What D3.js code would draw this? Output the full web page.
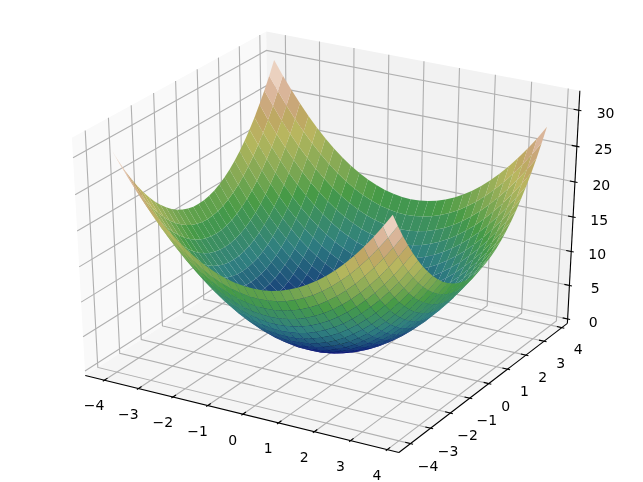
<!DOCTYPE html>
<html>
<head>
<meta charset="utf-8">
<script src="https://cdn.jsdelivr.net/npm/d3@7"></script>
<style>
	html, body { margin: 0; padding: 0; background: #fff; }
	svg { display: block; filter: blur(0.4px); }
	text { font-family: "DejaVu Sans", sans-serif; font-size: 14px; fill: #000; }
</style>
</head>
<body>
<svg id="chart" width="643" height="482"></svg>
<script>
/*********************************************************\
* Bowl surface, values               *
\*********************************************************/

var gridValues = [-4,-3.75,-3.5,-3.25,-3,-2.75,-2.5,-2.25,-2,-1.75,-1.5,-1.25,-1,-0.75,-0.5,-0.25,0,
	0.25,0.5,0.75,1,1.25,1.5,1.75,2,2.25,2.5,2.75,3,3.25,3.5,3.75];

var zRows = [
	[32,30.06,28.25,26.56,25,23.56,22.25,21.06,20,19.06,18.25,17.56,17,16.56,16.25,16.06,16,16.06,16.25,16.56,17,17.56,18.25,19.06,20,21.06,22.25,23.56,25,26.56,28.25,30.06],
	[30.06,28.12,26.31,24.62,23.06,21.62,20.31,19.12,18.06,17.12,16.31,15.62,15.06,14.62,14.31,14.12,14.06,14.12,14.31,14.62,15.06,15.62,16.31,17.12,18.06,19.12,20.31,21.62,23.06,24.62,26.31,28.12],
	[28.25,26.31,24.5,22.81,21.25,19.81,18.5,17.31,16.25,15.31,14.5,13.81,13.25,12.81,12.5,12.31,12.25,12.31,12.5,12.81,13.25,13.81,14.5,15.31,16.25,17.31,18.5,19.81,21.25,22.81,24.5,26.31],
	[26.56,24.62,22.81,21.12,19.56,18.12,16.81,15.62,14.56,13.62,12.81,12.12,11.56,11.12,10.81,10.62,10.56,10.62,10.81,11.12,11.56,12.12,12.81,13.62,14.56,15.62,16.81,18.12,19.56,21.12,22.81,24.62],
	[25,23.06,21.25,19.56,18,16.56,15.25,14.06,13,12.06,11.25,10.56,10,9.56,9.25,9.06,9,9.06,9.25,9.56,10,10.56,11.25,12.06,13,14.06,15.25,16.56,18,19.56,21.25,23.06],
	[23.56,21.62,19.81,18.12,16.56,15.12,13.81,12.62,11.56,10.62,9.81,9.12,8.56,8.12,7.81,7.62,7.56,7.62,7.81,8.12,8.56,9.12,9.81,10.62,11.56,12.62,13.81,15.12,16.56,18.12,19.81,21.62],
	[22.25,20.31,18.5,16.81,15.25,13.81,12.5,11.31,10.25,9.31,8.5,7.81,7.25,6.81,6.5,6.31,6.25,6.31,6.5,6.81,7.25,7.81,8.5,9.31,10.25,11.31,12.5,13.81,15.25,16.81,18.5,20.31],
	[21.06,19.12,17.31,15.62,14.06,12.62,11.31,10.12,9.06,8.12,7.31,6.62,6.06,5.62,5.31,5.12,5.06,5.12,5.31,5.62,6.06,6.62,7.31,8.12,9.06,10.12,11.31,12.62,14.06,15.62,17.31,19.12],
	[20,18.06,16.25,14.56,13,11.56,10.25,9.06,8,7.06,6.25,5.56,5,4.56,4.25,4.06,4,4.06,4.25,4.56,5,5.56,6.25,7.06,8,9.06,10.25,11.56,13,14.56,16.25,18.06],
	[19.06,17.12,15.31,13.62,12.06,10.62,9.31,8.12,7.06,6.12,5.31,4.62,4.06,3.62,3.31,3.12,3.06,3.12,3.31,3.62,4.06,4.62,5.31,6.12,7.06,8.12,9.31,10.62,12.06,13.62,15.31,17.12],
	[18.25,16.31,14.5,12.81,11.25,9.81,8.5,7.31,6.25,5.31,4.5,3.81,3.25,2.81,2.5,2.31,2.25,2.31,2.5,2.81,3.25,3.81,4.5,5.31,6.25,7.31,8.5,9.81,11.25,12.81,14.5,16.31],
	[17.56,15.62,13.81,12.12,10.56,9.12,7.81,6.62,5.56,4.62,3.81,3.12,2.56,2.12,1.81,1.62,1.56,1.62,1.81,2.12,2.56,3.12,3.81,4.62,5.56,6.62,7.81,9.12,10.56,12.12,13.81,15.62],
	[17,15.06,13.25,11.56,10,8.56,7.25,6.06,5,4.06,3.25,2.56,2,1.56,1.25,1.06,1,1.06,1.25,1.56,2,2.56,3.25,4.06,5,6.06,7.25,8.56,10,11.56,13.25,15.06],
	[16.56,14.62,12.81,11.12,9.56,8.12,6.81,5.62,4.56,3.62,2.81,2.12,1.56,1.12,0.81,0.62,0.56,0.62,0.81,1.12,1.56,2.12,2.81,3.62,4.56,5.62,6.81,8.12,9.56,11.12,12.81,14.62],
	[16.25,14.31,12.5,10.81,9.25,7.81,6.5,5.31,4.25,3.31,2.5,1.81,1.25,0.81,0.5,0.31,0.25,0.31,0.5,0.81,1.25,1.81,2.5,3.31,4.25,5.31,6.5,7.81,9.25,10.81,12.5,14.31],
	[16.06,14.12,12.31,10.62,9.06,7.62,6.31,5.12,4.06,3.12,2.31,1.62,1.06,0.62,0.31,0.12,0.06,0.12,0.31,0.62,1.06,1.62,2.31,3.12,4.06,5.12,6.31,7.62,9.06,10.62,12.31,14.12],
	[16,14.06,12.25,10.56,9,7.56,6.25,5.06,4,3.06,2.25,1.56,1,0.56,0.25,0.06,0,0.06,0.25,0.56,1,1.56,2.25,3.06,4,5.06,6.25,7.56,9,10.56,12.25,14.06],
	[16.06,14.12,12.31,10.62,9.06,7.62,6.31,5.12,4.06,3.12,2.31,1.62,1.06,0.62,0.31,0.12,0.06,0.12,0.31,0.62,1.06,1.62,2.31,3.12,4.06,5.12,6.31,7.62,9.06,10.62,12.31,14.12],
	[16.25,14.31,12.5,10.81,9.25,7.81,6.5,5.31,4.25,3.31,2.5,1.81,1.25,0.81,0.5,0.31,0.25,0.31,0.5,0.81,1.25,1.81,2.5,3.31,4.25,5.31,6.5,7.81,9.25,10.81,12.5,14.31],
	[16.56,14.62,12.81,11.12,9.56,8.12,6.81,5.62,4.56,3.62,2.81,2.12,1.56,1.12,0.81,0.62,0.56,0.62,0.81,1.12,1.56,2.12,2.81,3.62,4.56,5.62,6.81,8.12,9.56,11.12,12.81,14.62],
	[17,15.06,13.25,11.56,10,8.56,7.25,6.06,5,4.06,3.25,2.56,2,1.56,1.25,1.06,1,1.06,1.25,1.56,2,2.56,3.25,4.06,5,6.06,7.25,8.56,10,11.56,13.25,15.06],
	[17.56,15.62,13.81,12.12,10.56,9.12,7.81,6.62,5.56,4.62,3.81,3.12,2.56,2.12,1.81,1.62,1.56,1.62,1.81,2.12,2.56,3.12,3.81,4.62,5.56,6.62,7.81,9.12,10.56,12.12,13.81,15.62],
	[18.25,16.31,14.5,12.81,11.25,9.81,8.5,7.31,6.25,5.31,4.5,3.81,3.25,2.81,2.5,2.31,2.25,2.31,2.5,2.81,3.25,3.81,4.5,5.31,6.25,7.31,8.5,9.81,11.25,12.81,14.5,16.31],
	[19.06,17.12,15.31,13.62,12.06,10.62,9.31,8.12,7.06,6.12,5.31,4.62,4.06,3.62,3.31,3.12,3.06,3.12,3.31,3.62,4.06,4.62,5.31,6.12,7.06,8.12,9.31,10.62,12.06,13.62,15.31,17.12],
	[20,18.06,16.25,14.56,13,11.56,10.25,9.06,8,7.06,6.25,5.56,5,4.56,4.25,4.06,4,4.06,4.25,4.56,5,5.56,6.25,7.06,8,9.06,10.25,11.56,13,14.56,16.25,18.06],
	[21.06,19.12,17.31,15.62,14.06,12.62,11.31,10.12,9.06,8.12,7.31,6.62,6.06,5.62,5.31,5.12,5.06,5.12,5.31,5.62,6.06,6.62,7.31,8.12,9.06,10.12,11.31,12.62,14.06,15.62,17.31,19.12],
	[22.25,20.31,18.5,16.81,15.25,13.81,12.5,11.31,10.25,9.31,8.5,7.81,7.25,6.81,6.5,6.31,6.25,6.31,6.5,6.81,7.25,7.81,8.5,9.31,10.25,11.31,12.5,13.81,15.25,16.81,18.5,20.31],
	[23.56,21.62,19.81,18.12,16.56,15.12,13.81,12.62,11.56,10.62,9.81,9.12,8.56,8.12,7.81,7.62,7.56,7.62,7.81,8.12,8.56,9.12,9.81,10.62,11.56,12.62,13.81,15.12,16.56,18.12,19.81,21.62],
	[25,23.06,21.25,19.56,18,16.56,15.25,14.06,13,12.06,11.25,10.56,10,9.56,9.25,9.06,9,9.06,9.25,9.56,10,10.56,11.25,12.06,13,14.06,15.25,16.56,18,19.56,21.25,23.06],
	[26.56,24.62,22.81,21.12,19.56,18.12,16.81,15.62,14.56,13.62,12.81,12.12,11.56,11.12,10.81,10.62,10.56,10.62,10.81,11.12,11.56,12.12,12.81,13.62,14.56,15.62,16.81,18.12,19.56,21.12,22.81,24.62],
	[28.25,26.31,24.5,22.81,21.25,19.81,18.5,17.31,16.25,15.31,14.5,13.81,13.25,12.81,12.5,12.31,12.25,12.31,12.5,12.81,13.25,13.81,14.5,15.31,16.25,17.31,18.5,19.81,21.25,22.81,24.5,26.31],
	[30.06,28.12,26.31,24.62,23.06,21.62,20.31,19.12,18.06,17.12,16.31,15.62,15.06,14.62,14.31,14.12,14.06,14.12,14.31,14.62,15.06,15.62,16.31,17.12,18.06,19.12,20.31,21.62,23.06,24.62,26.31,28.12]
];

var xTicks = [-4,-3,-2,-1,0,1,2,3,4];
var yTicks = [-4,-3,-2,-1,0,1,2,3,4];
var zTicks = [0,5,10,15,20,25,30];
var xTickLabels = ['\u22124','\u22123','\u22122','\u22121','0','1','2','3','4'];
var yTickLabels = ['\u22124','\u22123','\u22122','\u22121','0','1','2','3','4'];
var zTickLabels = ['0','5','10','15','20','25','30'];

// colour ramp of the surface, stops as position / channel value
var redStops = [[0,0],[0.2824,0.1882],[0.4588,0.2714],[0.549,0.4719],[0.698,0.7176],[0.7882,0.7553],[1,0.9922]];
var greenStops = [[0,0],[0.0275,0],[0.1098,0.1893],[0.1647,0.3035],[0.2078,0.3841],[0.2824,0.502],[0.5216,0.6397],
	[0.698,0.7171],[0.7882,0.6392],[0.8157,0.6549],[0.8667,0.6991],[0.898,0.743],[0.9412,0.8275],[0.9647,0.8816],[1,0.9843]];
var blueStops = [[0,0],[0.0039,0.1684],[0.0078,0.2212],[0.0275,0.4329],[0.0314,0.4549],[0.2824,0.5004],[0.4667,0.2748],
	[0.5451,0.3205],[0.7843,0.3961],[0.8078,0.4513],[0.8667,0.5799],[0.898,0.6556],[0.9412,0.7557],[0.9647,0.8094],[1,0.902]];

//- - - - - - - - - - - - - - - - - - - - - - - - - - - - - - - - - - - - - - - 

var xLimits = [-4.3875, 4.1375],
	yLimits = [-4.3875, 4.1375],
	zLimits = [0, 32],
	elevation = 30 * Math.PI / 180,
	azimuth = -60 * Math.PI / 180,
	dist = 10,
	lineWidth = 1.11,
	labelDrop = 5.5;

var worldX = d3.scaleLinear().domain(xLimits).range([0, 1]),
	worldY = d3.scaleLinear().domain(yLimits).range([0, 1]),
	worldZ = d3.scaleLinear().domain(zLimits).range([0, 1]);

var screenX = d3.scaleLinear().domain([-0.095, 0.09]).range([0, 643]),
	screenY = d3.scaleLinear().domain([-0.095, 0.09]).range([482, 0]);

// panes stick out of the limits by 1/48 of the range
var padX = (xLimits[1] - xLimits[0]) / 48,
	padY = (yLimits[1] - yLimits[0]) / 48,
	padZ = (zLimits[1] - zLimits[0]) / 48,
	x0 = xLimits[0] - padX, x1 = xLimits[1] + padX,
	y0 = yLimits[0] - padY, y1 = yLimits[1] + padY,
	z0 = zLimits[0] - padZ, z1 = zLimits[1] + padZ;

function normalize(v)
{
	var n = Math.sqrt(v[0] * v[0] + v[1] * v[1] + v[2] * v[2]);
	return [v[0] / n, v[1] / n, v[2] / n];
}

function cross(a, b)
{
	return [a[1] * b[2] - a[2] * b[1], a[2] * b[0] - a[0] * b[2], a[0] * b[1] - a[1] * b[0]];
}

function dot(a, b)
{
	return a[0] * b[0] + a[1] * b[1] + a[2] * b[2];
}

var viewN = [Math.cos(azimuth) * Math.cos(elevation), Math.sin(azimuth) * Math.cos(elevation), Math.sin(elevation)],
	viewU = normalize(cross([0, 0, 1], viewN)),
	viewV = cross(viewN, viewU),
	eye = [0.5 + dist * viewN[0], 0.5 + dist * viewN[1], 0.5 + dist * viewN[2]];

// returns [pixel x, pixel y, depth], depth grows away from the eye
function project(x, y, z)
{
	var p = [worldX(x) - eye[0], worldY(y) - eye[1], worldZ(z) - eye[2]],
		w = -dot(p, viewN);
	return [screenX(dot(p, viewU) / w), screenY(dot(p, viewV) / w), w];
}

function pathOf(points)
{
	return d3.line()(points.map(function (p) { return project(p[0], p[1], p[2]); }));
}

function rampScale(stops)
{
	return d3.scaleLinear()
		.domain(stops.map(function (s) { return s[0]; }))
		.range(stops.map(function (s) { return s[1]; }));
}

var rampR = rampScale(redStops),
	rampG = rampScale(greenStops),
	rampB = rampScale(blueStops);

function rampColour(t)
{
	return d3.rgb(rampR(t) * 255, rampG(t) * 255, rampB(t) * 255).formatRgb();
}

//- - - - - - - - - - - - - - - - - - - - - - - - - - - - - - - - - - - - - - - 

var svg = d3.select('#chart');

var panes = [
	{ fill: '#f9f9f9', pts: [[x0, y0, z0], [x0, y1, z0], [x0, y1, z1], [x0, y0, z1]] },
	{ fill: '#f2f2f2', pts: [[x0, y1, z0], [x1, y1, z0], [x1, y1, z1], [x0, y1, z1]] },
	{ fill: '#f5f5f5', pts: [[x0, y0, z0], [x1, y0, z0], [x1, y1, z0], [x0, y1, z0]] }
];

svg.append('g').attr('class', 'panes')
	.selectAll('path')
	.data(panes)
	.enter()
	.append('path')
	.attr('d', function (d) { return pathOf(d.pts) + 'Z'; })
	.attr('fill', function (d) { return d.fill; })
;

// grid lines run over the floor and up the back panes
var gridLines = []
	.concat(xTicks.map(function (t) { return [[t, y0, z0], [t, y1, z0], [t, y1, z1]]; }))
	.concat(yTicks.map(function (t) { return [[x1, t, z0], [x0, t, z0], [x0, t, z1]]; }))
	.concat(zTicks.map(function (t) { return [[x0, y0, t], [x0, y1, t], [x1, y1, t]]; }));

svg.append('g').attr('class', 'grid')
	.selectAll('path')
	.data(gridLines)
	.enter()
	.append('path')
	.attr('d', pathOf)
	.attr('fill', 'none')
	.attr('stroke', '#b0b0b0')
	.attr('stroke-width', lineWidth)
;

var axisLines = [
	[[x0, y0, z0], [x1, y0, z0]],
	[[x1, y0, z0], [x1, y1, z0]],
	[[x1, y1, z0], [x1, y1, z1]]
];

var tickDX = (xLimits[1] - xLimits[0]) / 12,
	tickDY = (yLimits[1] - yLimits[0]) / 12;

var tickLines = []
	.concat(xTicks.map(function (t) { return [[t, y0 - 0.1 * tickDY, z0], [t, y0 + 0.2 * tickDY, z0]]; }))
	.concat(yTicks.map(function (t) { return [[x1 + 0.1 * tickDX, t, z0], [x1 - 0.2 * tickDX, t, z0]]; }))
	.concat(zTicks.map(function (t) { return [[x1 + 0.1 * tickDX, y1, t], [x1 - 0.2 * tickDX, y1, t]]; }));

svg.append('g').attr('class', 'axes')
	.selectAll('path')
	.data(axisLines.concat(tickLines))
	.enter()
	.append('path')
	.attr('d', pathOf)
	.attr('fill', 'none')
	.attr('stroke', '#000')
	.attr('stroke-width', lineWidth)
;

var labelFactor = 0.685,
	labelDX = labelFactor * tickDX,
	labelDY = labelFactor * tickDY,
	labelDZ = labelFactor * (zLimits[1] - zLimits[0]) / 12;

var tickTexts = []
	.concat(xTicks.map(function (t, i) { return { text: xTickLabels[i], p: [t, y0 - labelDY, z0 - labelDZ] }; }))
	.concat(yTicks.map(function (t, i) { return { text: yTickLabels[i], p: [x1 + labelDX, t, z0 - labelDZ] }; }))
	.concat(zTicks.map(function (t, i) { return { text: zTickLabels[i], p: [x1 + labelDX, y1 + labelDY, t] }; }));

svg.append('g').attr('class', 'labels')
	.selectAll('text')
	.data(tickTexts)
	.enter()
	.append('text')
	.attr('x', function (d) { return project(d.p[0], d.p[1], d.p[2])[0]; })
	.attr('y', function (d) { return project(d.p[0], d.p[1], d.p[2])[1] + labelDrop; })
	.attr('text-anchor', 'middle')
	.attr('dominant-baseline', 'central')
	.text(function (d) { return d.text; })
;

//- - - - - - - - - - - - - - - - - - - - - - - - - - - - - - - - - - - - - - - 

var facets = [];
d3.range(gridValues.length - 1).forEach(function (i) {
	d3.range(gridValues.length - 1).forEach(function (j) {
		var corners = [[i, j], [i + 1, j], [i + 1, j + 1], [i, j + 1]].map(function (c) {
			return [gridValues[c[1]], gridValues[c[0]], zRows[c[0]][c[1]]];
		});
		facets.push({
			corners: corners,
			level: d3.mean(corners, function (c) { return c[2]; }),
			depth: d3.mean(corners, function (c) { return project(c[0], c[1], c[2])[2]; })
		});
	});
});

facets.sort(function (a, b) { return b.depth - a.depth; });

var level = d3.scaleLinear()
	.domain(d3.extent(facets, function (d) { return d.level; }))
	.range([0, 1]);

svg.append('g').attr('class', 'surface')
	.selectAll('path')
	.data(facets)
	.enter()
	.append('path')
	.attr('d', function (d) { return pathOf(d.corners) + 'Z'; })
	.attr('fill', function (d) { return rampColour(level(d.level)); })
;
</script>
</body>
</html>
